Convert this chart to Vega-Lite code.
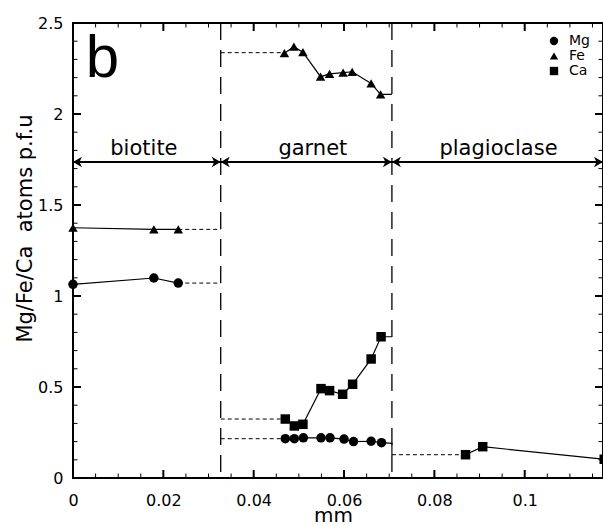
{
  "$schema": "https://vega.github.io/schema/vega-lite/v6.json",
  "width": 530,
  "height": 455,
  "autosize": {"type": "none"},
  "padding": {"left": 73, "top": 23, "right": 0, "bottom": 47},
  "background": "white",
  "config": {
    "view": {"stroke": "black", "strokeWidth": 2},
    "font": "DejaVu Sans",
    "axis": {"domain": false, "grid": false, "labelColor": "black", "titleColor": "black", "labelFont": "DejaVu Sans", "titleFont": "DejaVu Sans", "titleFontWeight": "normal", "labelFlush": false}
  },
  "resolve": {"axis": {"x": "independent", "y": "independent"}},
  "datasets": {
    "pts": [
      {"series": "Mg", "x": 0, "y": 1.064},
      {"series": "Mg", "x": 0.0179, "y": 1.099},
      {"series": "Mg", "x": 0.0233, "y": 1.071},
      {"series": "Fe", "x": 0, "y": 1.375},
      {"series": "Fe", "x": 0.0179, "y": 1.366},
      {"series": "Fe", "x": 0.0233, "y": 1.366},
      {"series": "Fe", "x": 0.0468, "y": 2.334},
      {"series": "Fe", "x": 0.0489, "y": 2.370},
      {"series": "Fe", "x": 0.0509, "y": 2.340},
      {"series": "Fe", "x": 0.0548, "y": 2.205},
      {"series": "Fe", "x": 0.0568, "y": 2.220},
      {"series": "Fe", "x": 0.0598, "y": 2.227},
      {"series": "Fe", "x": 0.0618, "y": 2.232},
      {"series": "Fe", "x": 0.0660, "y": 2.168},
      {"series": "Fe", "x": 0.0681, "y": 2.108},
      {"series": "Ca", "x": 0.0470, "y": 0.324},
      {"series": "Ca", "x": 0.0490, "y": 0.286},
      {"series": "Ca", "x": 0.0509, "y": 0.295},
      {"series": "Ca", "x": 0.0549, "y": 0.491},
      {"series": "Ca", "x": 0.0568, "y": 0.480},
      {"series": "Ca", "x": 0.0597, "y": 0.460},
      {"series": "Ca", "x": 0.0619, "y": 0.515},
      {"series": "Ca", "x": 0.0660, "y": 0.654},
      {"series": "Ca", "x": 0.0682, "y": 0.776},
      {"series": "Mg", "x": 0.0470, "y": 0.216},
      {"series": "Mg", "x": 0.0490, "y": 0.216},
      {"series": "Mg", "x": 0.0510, "y": 0.221},
      {"series": "Mg", "x": 0.0549, "y": 0.221},
      {"series": "Mg", "x": 0.0569, "y": 0.221},
      {"series": "Mg", "x": 0.0600, "y": 0.214},
      {"series": "Mg", "x": 0.0621, "y": 0.200},
      {"series": "Mg", "x": 0.0660, "y": 0.202},
      {"series": "Mg", "x": 0.0683, "y": 0.194},
      {"series": "Ca", "x": 0.0869, "y": 0.128},
      {"series": "Ca", "x": 0.0907, "y": 0.172},
      {"series": "Ca", "x": 0.1176, "y": 0.103}
    ],
    "solid": [
      {"seg": "mgbt", "i": 1, "x": 0, "y": 1.064},
      {"seg": "mgbt", "i": 2, "x": 0.0179, "y": 1.099},
      {"seg": "mgbt", "i": 3, "x": 0.0233, "y": 1.071},
      {"seg": "febt", "i": 1, "x": 0, "y": 1.375},
      {"seg": "febt", "i": 2, "x": 0.0179, "y": 1.366},
      {"seg": "febt", "i": 3, "x": 0.0233, "y": 1.366},
      {"seg": "fegt", "i": 1, "x": 0.0468, "y": 2.334},
      {"seg": "fegt", "i": 2, "x": 0.0489, "y": 2.370},
      {"seg": "fegt", "i": 3, "x": 0.0509, "y": 2.340},
      {"seg": "fegt", "i": 4, "x": 0.0548, "y": 2.205},
      {"seg": "fegt", "i": 5, "x": 0.0568, "y": 2.220},
      {"seg": "fegt", "i": 6, "x": 0.0598, "y": 2.227},
      {"seg": "fegt", "i": 7, "x": 0.0618, "y": 2.232},
      {"seg": "fegt", "i": 8, "x": 0.0660, "y": 2.168},
      {"seg": "fegt", "i": 9, "x": 0.0681, "y": 2.108},
      {"seg": "fegt", "i": 10, "x": 0.0706, "y": 2.108},
      {"seg": "cagt", "i": 1, "x": 0.0470, "y": 0.324},
      {"seg": "cagt", "i": 2, "x": 0.0490, "y": 0.286},
      {"seg": "cagt", "i": 3, "x": 0.0509, "y": 0.295},
      {"seg": "cagt", "i": 4, "x": 0.0549, "y": 0.491},
      {"seg": "cagt", "i": 5, "x": 0.0568, "y": 0.480},
      {"seg": "cagt", "i": 6, "x": 0.0597, "y": 0.460},
      {"seg": "cagt", "i": 7, "x": 0.0619, "y": 0.515},
      {"seg": "cagt", "i": 8, "x": 0.0660, "y": 0.654},
      {"seg": "cagt", "i": 9, "x": 0.0682, "y": 0.776},
      {"seg": "cagt", "i": 10, "x": 0.0706, "y": 0.776},
      {"seg": "mggt", "i": 1, "x": 0.0470, "y": 0.216},
      {"seg": "mggt", "i": 2, "x": 0.0490, "y": 0.216},
      {"seg": "mggt", "i": 3, "x": 0.0510, "y": 0.221},
      {"seg": "mggt", "i": 4, "x": 0.0549, "y": 0.221},
      {"seg": "mggt", "i": 5, "x": 0.0569, "y": 0.221},
      {"seg": "mggt", "i": 6, "x": 0.0600, "y": 0.214},
      {"seg": "mggt", "i": 7, "x": 0.0621, "y": 0.200},
      {"seg": "mggt", "i": 8, "x": 0.0660, "y": 0.202},
      {"seg": "mggt", "i": 9, "x": 0.0683, "y": 0.194},
      {"seg": "mggt", "i": 10, "x": 0.0706, "y": 0.190},
      {"seg": "mggt", "i": 11, "x": 0.0706, "y": 0.128},
      {"seg": "capl", "i": 1, "x": 0.0869, "y": 0.128},
      {"seg": "capl", "i": 2, "x": 0.0907, "y": 0.172},
      {"seg": "capl", "i": 3, "x": 0.1176, "y": 0.103}
    ],
    "dotted": [
      {"seg": "mgbt", "i": 1, "x": 0.0233, "y": 1.071},
      {"seg": "mgbt", "i": 2, "x": 0.0327, "y": 1.071},
      {"seg": "febt", "i": 1, "x": 0.0233, "y": 1.366},
      {"seg": "febt", "i": 2, "x": 0.0327, "y": 1.366},
      {"seg": "fegt", "i": 1, "x": 0.0327, "y": 2.337},
      {"seg": "fegt", "i": 2, "x": 0.0468, "y": 2.337},
      {"seg": "cagt", "i": 1, "x": 0.0327, "y": 0.324},
      {"seg": "cagt", "i": 2, "x": 0.0470, "y": 0.324},
      {"seg": "mggt", "i": 1, "x": 0.0327, "y": 0.216},
      {"seg": "mggt", "i": 2, "x": 0.0470, "y": 0.216},
      {"seg": "capl", "i": 1, "x": 0.0706, "y": 0.128},
      {"seg": "capl", "i": 2, "x": 0.0869, "y": 0.128}
    ],
    "bounds": [{"x": 0.0327}, {"x": 0.0706}],
    "regions": [
      {"label": "biotite", "x": 0, "x2": 0.0327, "xc": 0.0157},
      {"label": "garnet", "x": 0.0327, "x2": 0.0706, "xc": 0.0531},
      {"label": "plagioclase", "x": 0.0706, "x2": 0.11733, "xc": 0.0942}
    ],
    "xmaj": [{"v": 0.02}, {"v": 0.04}, {"v": 0.06}, {"v": 0.08}, {"v": 0.1}],
    "xmin": [{"v": 0.005}, {"v": 0.01}, {"v": 0.015}, {"v": 0.025}, {"v": 0.03}, {"v": 0.035}, {"v": 0.045}, {"v": 0.05}, {"v": 0.055}, {"v": 0.065}, {"v": 0.07}, {"v": 0.075}, {"v": 0.085}, {"v": 0.09}, {"v": 0.095}, {"v": 0.105}, {"v": 0.11}, {"v": 0.115}],
    "ymaj": [{"v": 0.5}, {"v": 1}, {"v": 1.5}, {"v": 2}],
    "ymin": [{"v": 0.1}, {"v": 0.2}, {"v": 0.3}, {"v": 0.4}, {"v": 0.6}, {"v": 0.7}, {"v": 0.8}, {"v": 0.9}, {"v": 1.1}, {"v": 1.2}, {"v": 1.3}, {"v": 1.4}, {"v": 1.6}, {"v": 1.7}, {"v": 1.8}, {"v": 1.9}, {"v": 2.1}, {"v": 2.2}, {"v": 2.3}, {"v": 2.4}]
  },
  "layer": [
    {
      "data": {"name": "bounds"},
      "mark": {"type": "rule", "color": "black", "strokeWidth": 1.3, "strokeDash": [17, 10]},
      "encoding": {
        "x": {"field": "x", "type": "quantitative", "scale": {"domain": [0, 0.11733], "nice": false, "zero": false}, "axis": null}
      }
    },
    {
      "data": {"name": "dotted"},
      "mark": {"type": "line", "color": "black", "strokeWidth": 1, "strokeDash": [4, 3]},
      "encoding": {
        "x": {"field": "x", "type": "quantitative", "scale": {"domain": [0, 0.11733], "nice": false, "zero": false},
          "axis": {"orient": "bottom", "values": [0, 0.02, 0.04, 0.06, 0.08, 0.1], "format": "~g", "ticks": false, "labelPadding": 14, "labelFontSize": 16,
            "title": "mm", "titleFontSize": 20, "titleX": 260, "titleY": 43, "titleBaseline": "alphabetic", "titleAlign": "center"}},
        "y": {"field": "y", "type": "quantitative", "scale": {"domain": [0, 2.5], "nice": false, "zero": false},
          "axis": {"orient": "left", "values": [0, 0.5, 1, 1.5, 2, 2.5], "format": "~g", "ticks": false, "labelPadding": 10, "labelFontSize": 16,
            "title": "Mg/Fe/Ca\u00a0 atoms p.f.u", "titleFontSize": 21, "titleAngle": -90, "titleX": -42, "titleY": 205, "titleBaseline": "alphabetic", "titleAlign": "center"}},
        "detail": {"field": "seg"},
        "order": {"field": "i", "type": "quantitative"}
      }
    },
    {
      "data": {"name": "solid"},
      "mark": {"type": "line", "color": "black", "strokeWidth": 1.2},
      "encoding": {
        "x": {"field": "x", "type": "quantitative", "axis": null},
        "y": {"field": "y", "type": "quantitative", "axis": null},
        "detail": {"field": "seg"},
        "order": {"field": "i", "type": "quantitative"}
      }
    },
    {
      "data": {"name": "xmaj"},
      "mark": {"type": "tick", "orient": "vertical", "color": "black", "size": 16, "thickness": 2, "clip": true, "opacity": 1},
      "encoding": {"x": {"field": "v", "type": "quantitative", "axis": null}, "y": {"datum": 0, "type": "quantitative", "axis": null}}
    },
    {
      "data": {"name": "xmaj"},
      "mark": {"type": "tick", "orient": "vertical", "color": "black", "size": 16, "thickness": 2, "clip": true, "opacity": 1},
      "encoding": {"x": {"field": "v", "type": "quantitative", "axis": null}, "y": {"datum": 2.5, "type": "quantitative", "axis": null}}
    },
    {
      "data": {"name": "xmin"},
      "mark": {"type": "tick", "orient": "vertical", "color": "black", "size": 9, "thickness": 1, "clip": true, "opacity": 1},
      "encoding": {"x": {"field": "v", "type": "quantitative", "axis": null}, "y": {"datum": 0, "type": "quantitative", "axis": null}}
    },
    {
      "data": {"name": "xmin"},
      "mark": {"type": "tick", "orient": "vertical", "color": "black", "size": 9, "thickness": 1, "clip": true, "opacity": 1},
      "encoding": {"x": {"field": "v", "type": "quantitative", "axis": null}, "y": {"datum": 2.5, "type": "quantitative", "axis": null}}
    },
    {
      "data": {"name": "ymaj"},
      "mark": {"type": "tick", "orient": "horizontal", "color": "black", "size": 16, "thickness": 2, "clip": true, "opacity": 1},
      "encoding": {"y": {"field": "v", "type": "quantitative", "axis": null}, "x": {"datum": 0, "type": "quantitative", "axis": null}}
    },
    {
      "data": {"name": "ymaj"},
      "mark": {"type": "tick", "orient": "horizontal", "color": "black", "size": 16, "thickness": 2, "clip": true, "opacity": 1},
      "encoding": {"y": {"field": "v", "type": "quantitative", "axis": null}, "x": {"datum": 0.11733, "type": "quantitative", "axis": null}}
    },
    {
      "data": {"name": "ymin"},
      "mark": {"type": "tick", "orient": "horizontal", "color": "black", "size": 9, "thickness": 1, "clip": true, "opacity": 1},
      "encoding": {"y": {"field": "v", "type": "quantitative", "axis": null}, "x": {"datum": 0, "type": "quantitative", "axis": null}}
    },
    {
      "data": {"name": "ymin"},
      "mark": {"type": "tick", "orient": "horizontal", "color": "black", "size": 9, "thickness": 1, "clip": true, "opacity": 1},
      "encoding": {"y": {"field": "v", "type": "quantitative", "axis": null}, "x": {"datum": 0.11733, "type": "quantitative", "axis": null}}
    },
    {
      "data": {"name": "pts"},
      "mark": {"type": "point", "filled": true, "color": "black", "opacity": 1, "size": 90},
      "encoding": {
        "x": {"field": "x", "type": "quantitative", "axis": null},
        "y": {"field": "y", "type": "quantitative", "axis": null},
        "shape": {"field": "series", "type": "nominal", "scale": {"domain": ["Mg", "Fe", "Ca"], "range": ["circle", "triangle-up", "square"]},
          "legend": {"title": null, "orient": "none", "legendX": 474, "legendY": 11, "padding": 0, "symbolSize": 70, "symbolType": "circle", "symbolFillColor": "black", "symbolStrokeColor": "black", "symbolStrokeWidth": 0, "symbolOpacity": 1, "labelFontSize": 14, "labelFont": "DejaVu Sans", "labelColor": "black", "rowPadding": 1, "labelOffset": 8}}
      }
    },
    {
      "data": {"name": "regions"},
      "mark": {"type": "rule", "color": "black", "strokeWidth": 2},
      "encoding": {
        "x": {"field": "x", "type": "quantitative", "axis": null},
        "x2": {"field": "x2"},
        "y": {"datum": 1.736, "type": "quantitative", "axis": null}
      }
    },
    {
      "data": {"name": "regions"},
      "mark": {"type": "point", "filled": true, "color": "black", "opacity": 1, "size": 81, "shape": "M 0 0 L 2 -1.15 L 1.45 0 L 2 1.15 Z"},
      "encoding": {
        "x": {"field": "x", "type": "quantitative", "axis": null},
        "y": {"datum": 1.736, "type": "quantitative", "axis": null}
      }
    },
    {
      "data": {"name": "regions"},
      "mark": {"type": "point", "filled": true, "color": "black", "opacity": 1, "size": 81, "shape": "M 0 0 L -2 -1.15 L -1.45 0 L -2 1.15 Z"},
      "encoding": {
        "x": {"field": "x2", "type": "quantitative", "axis": null},
        "y": {"datum": 1.736, "type": "quantitative", "axis": null}
      }
    },
    {
      "data": {"name": "regions"},
      "mark": {"type": "text", "color": "black", "font": "DejaVu Sans", "fontSize": 21, "align": "center", "baseline": "alphabetic"},
      "encoding": {
        "x": {"field": "xc", "type": "quantitative", "axis": null},
        "y": {"datum": 1.772, "type": "quantitative", "axis": null},
        "text": {"field": "label"}
      }
    },
    {
      "data": {"values": [{"panel": "b"}]},
      "mark": {"type": "text", "color": "black", "font": "Liberation Sans", "fontSize": 60, "align": "left", "baseline": "alphabetic"},
      "encoding": {
        "x": {"datum": 0.0028, "type": "quantitative", "axis": null},
        "y": {"datum": 2.203, "type": "quantitative", "axis": null},
        "text": {"field": "panel"}
      }
    }
  ]
}
